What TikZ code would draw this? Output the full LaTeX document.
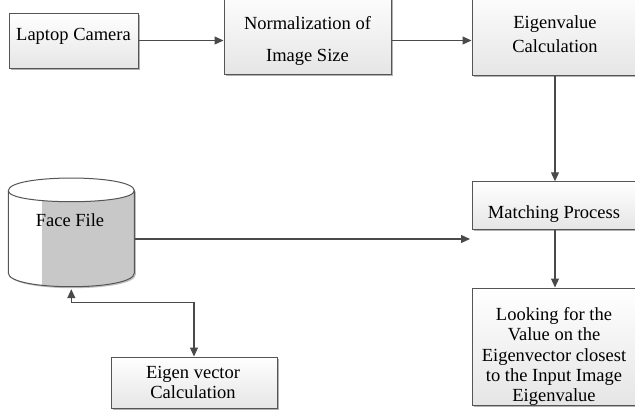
\documentclass[tikz,border=0pt]{standalone}
\usepackage{fontspec}
\setmainfont{Liberation Serif}
\usetikzlibrary{arrows.meta,shadows,calc}
\definecolor{linec}{HTML}{4A4A4A}
\definecolor{boxline}{HTML}{555555}
\definecolor{cylgray}{HTML}{C8C8C8}
\tikzset{
  procbox/.style={draw=boxline, line width=1pt, rectangle, inner sep=0pt,
    top color=white, bottom color=black!10,
    drop shadow={shadow xshift=1.5pt, shadow yshift=-1.5pt, opacity=0.3, fill=black}},
  txt/.style={align=center, anchor=base, inner sep=0pt, text=black,
    font=\fontsize{18.5}{20.3}\selectfont},
  tip/.style={},
  flow/.style={draw=linec, line width=1.2pt, -{Triangle[length=9pt,width=8pt]}},
  flowboth/.style={draw=linec, line width=1.2pt, {Triangle[length=9pt,width=8pt]}-{Triangle[length=9pt,width=8pt]}}
}
\begin{document}
\begin{tikzpicture}[x=1pt,y=-1pt]
\useasboundingbox (0,0) rectangle (635,410);
\clip (0,0) rectangle (635,410);

% boxes
\node[procbox, minimum width=129pt, minimum height=55pt] (cam) at (73.5,40.5) {};
\node[procbox, minimum width=167pt, minimum height=86pt] (norm) at (307.5,31) {};
\node[procbox, minimum width=166pt, minimum height=87pt] (eig) at (555,31.5) {};
\node[procbox, minimum width=166pt, minimum height=47.5pt] (match) at (555,205.5) {};
\node[procbox, minimum width=166pt, minimum height=117pt] (look) at (555,346.5) {};
\node[procbox, minimum width=166pt, minimum height=51pt] (ev) at (194,382.5) {};

% cylinder (Face File)
\fill[black, opacity=0.25] (9.8,192.2) .. controls (9.8,175.3) and (135.8,175.3) .. (135.8,192.2)
  -- (135.8,274.5) .. controls (135.8,292.8) and (9.8,292.8) .. (9.8,274.5) -- cycle;
\fill[white] (8.3,190.7) .. controls (8.3,173.8) and (134.3,173.8) .. (134.3,190.7)
  -- (134.3,273) .. controls (134.3,291.3) and (8.3,291.3) .. (8.3,273) -- cycle;
\begin{scope}
  \clip (8.3,190.7) .. controls (8.3,205.4) and (134.3,205.4) .. (134.3,190.7)
    -- (134.3,273) .. controls (134.3,291.3) and (8.3,291.3) .. (8.3,273) -- cycle;
  \fill[cylgray] (41.7,170) rectangle (140,300);
\end{scope}
\draw[boxline, line width=1pt]
  (8.3,190.7) .. controls (8.3,173.8) and (134.3,173.8) .. (134.3,190.7)
  -- (134.3,273) .. controls (134.3,291.3) and (8.3,291.3) .. (8.3,273) -- cycle;
\draw[boxline, line width=1pt]
  (8.3,190.7) .. controls (8.3,205.4) and (134.3,205.4) .. (134.3,190.7);
\node[minimum width=126pt, minimum height=111pt, inner sep=0pt] (face) at (71.3,233.5) {};

% texts (anchor base = baseline of the last line)
\node[txt] (tcam) at (73.5,40.7) {Laptop Camera};
\node[txt, font=\fontsize{18.5}{32.4}\selectfont] (tnorm) at (307.5,61.7) {Normalization of\\Image Size};
\node[txt, font=\fontsize{18.5}{24}\selectfont] (teig) at (555,52.3) {Eigenvalue\\Calculation};
\node[txt] (tmatch) at (554,218.3) {Matching Process};
\node[txt] (tface) at (70,226.7) {Face File};
\node[txt, font=\fontsize{18.5}{20}\selectfont] (tev) at (193,398.3) {Eigen vector\\Calculation};
\node[txt] (tlook) at (554,401.7) {Looking for the\\Value on the\\Eigenvector closest\\to the Input Image\\Eigenvalue};

% connectors
\coordinate (mend) at (470,239);
\coordinate (bend) at (194,302.7);
\draw[flow] (cam.east) -- (cam.east -| norm.west);
\draw[flow] (norm.east |- cam.east) -- (cam.east -| eig.west);
\draw[flow] (eig.south) -- (match.north);
\draw[flow] (face.east |- mend) -- (mend);
\draw[flow] (match.south) -- (look.north);
\draw[flowboth] (face.south) |- (bend) -- (ev.north);
\end{tikzpicture}
\end{document}
